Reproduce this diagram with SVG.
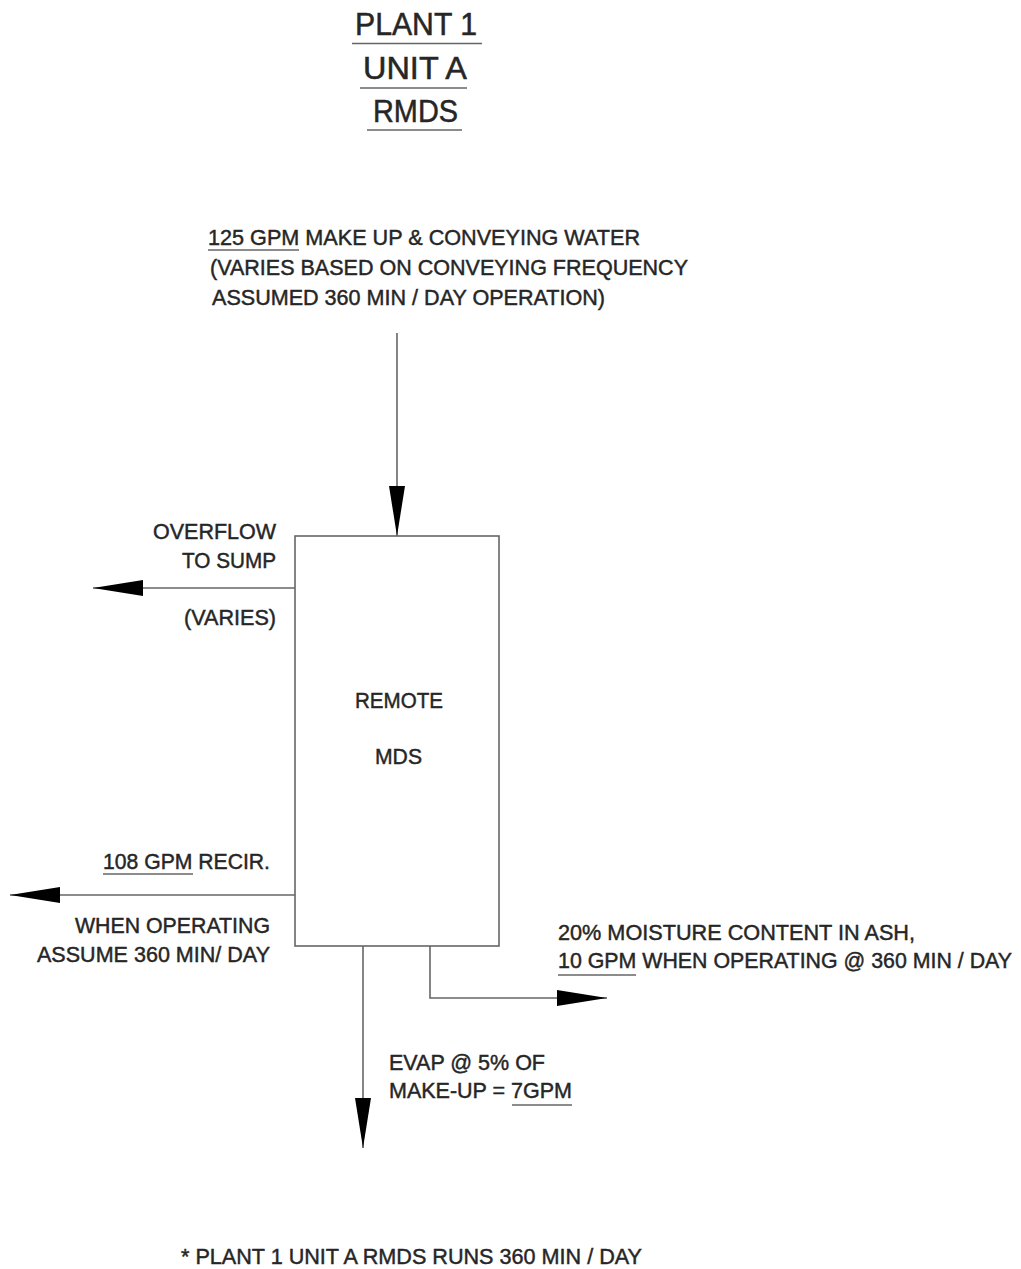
<svg xmlns="http://www.w3.org/2000/svg" width="1021" height="1269" viewBox="0 0 1021 1269">
  <style>
    .t { font-family: "Liberation Sans", Arial, sans-serif; font-size: 22px; fill: #262626; stroke: #262626; stroke-width: 0.45; }
    .title { font-family: "Liberation Sans", Arial, sans-serif; font-size: 31px; fill: #262626; stroke: #262626; stroke-width: 0.5; }
    .ul { stroke: #666; stroke-width: 1.6; fill: none; }
    .flow { stroke: #666; stroke-width: 1.6; fill: none; marker-end: url(#head); }
    .box { stroke: #666; stroke-width: 1.6; fill: #fff; }
  </style>
  <defs>
    <marker id="head" viewBox="0 0 50 16" refX="50" refY="8" markerWidth="50" markerHeight="16" markerUnits="userSpaceOnUse" orient="auto">
      <path d="M0,0 L50,8 L0,16 Z" fill="#000"/>
    </marker>
  </defs>
  <rect width="1021" height="1269" fill="#fff"/>

  <!-- title block -->
  <g id="title">
    <text class="title" x="355" y="35" textLength="122" lengthAdjust="spacingAndGlyphs">PLANT 1</text>
    <line class="ul" x1="352" y1="43.5" x2="482" y2="43.5"/>
    <text class="title" x="363" y="79" textLength="104" lengthAdjust="spacingAndGlyphs">UNIT A</text>
    <line class="ul" x1="360" y1="88" x2="467" y2="88"/>
    <text class="title" x="373" y="122" textLength="85" lengthAdjust="spacingAndGlyphs">RMDS</text>
    <line class="ul" x1="367" y1="130" x2="462" y2="130"/>
  </g>

  <!-- connectors -->
  <g id="connectors">
    <path class="flow" d="M397,333 V536"/>
    <path class="flow" d="M295,588 H93"/>
    <path class="flow" d="M295,895 H10"/>
    <path class="flow" d="M430,946 V998 H607"/>
    <path class="flow" d="M363,946 V1148"/>
  </g>

  <!-- remote MDS unit -->
  <g id="remote-mds">
    <rect class="box" x="295" y="536" width="204" height="410"/>
    <text class="t" x="355" y="708" textLength="88" lengthAdjust="spacingAndGlyphs">REMOTE</text>
    <text class="t" x="375" y="764" textLength="47" lengthAdjust="spacingAndGlyphs">MDS</text>
  </g>

  <!-- make-up water inlet -->
  <g id="makeup-label">
    <text class="t" x="208" y="245" textLength="432" lengthAdjust="spacingAndGlyphs">125 GPM MAKE UP &amp; CONVEYING WATER</text>
    <line class="ul" x1="208" y1="250" x2="299" y2="250"/>
    <text class="t" x="210" y="275" textLength="478" lengthAdjust="spacingAndGlyphs">(VARIES BASED ON CONVEYING FREQUENCY</text>
    <text class="t" x="212" y="305" textLength="393" lengthAdjust="spacingAndGlyphs">ASSUMED 360 MIN / DAY OPERATION)</text>
  </g>

  <!-- overflow outlet -->
  <g id="overflow-label">
    <text class="t" x="153" y="539" textLength="123" lengthAdjust="spacingAndGlyphs">OVERFLOW</text>
    <text class="t" x="182" y="568" textLength="94" lengthAdjust="spacingAndGlyphs">TO SUMP</text>
    <text class="t" x="184" y="625" textLength="92" lengthAdjust="spacingAndGlyphs">(VARIES)</text>
  </g>

  <!-- recirculation outlet -->
  <g id="recirc-label">
    <text class="t" x="103" y="869" textLength="167" lengthAdjust="spacingAndGlyphs">108 GPM RECIR.</text>
    <line class="ul" x1="103" y1="874" x2="193" y2="874"/>
    <text class="t" x="75" y="933" textLength="195" lengthAdjust="spacingAndGlyphs">WHEN OPERATING</text>
    <text class="t" x="37" y="962" textLength="233" lengthAdjust="spacingAndGlyphs">ASSUME 360 MIN/ DAY</text>
  </g>

  <!-- ash moisture outlet -->
  <g id="ash-label">
    <text class="t" x="558" y="940" textLength="357" lengthAdjust="spacingAndGlyphs">20% MOISTURE CONTENT IN ASH,</text>
    <text class="t" x="558" y="968" font-size="20.5" textLength="454" lengthAdjust="spacingAndGlyphs">10 GPM WHEN OPERATING @ 360 MIN / DAY</text>
    <line class="ul" x1="558" y1="975" x2="636" y2="975"/>
  </g>

  <!-- evaporation loss -->
  <g id="evap-label">
    <text class="t" x="389" y="1070" textLength="156" lengthAdjust="spacingAndGlyphs">EVAP @ 5% OF</text>
    <text class="t" x="389" y="1098" textLength="183" lengthAdjust="spacingAndGlyphs">MAKE-UP = 7GPM</text>
    <line class="ul" x1="512" y1="1105" x2="572" y2="1105"/>
  </g>

  <!-- footnote -->
  <g id="footnote">
    <text class="t" x="181" y="1264" textLength="461" lengthAdjust="spacingAndGlyphs">* PLANT 1 UNIT A RMDS RUNS 360 MIN / DAY</text>
  </g>
</svg>
